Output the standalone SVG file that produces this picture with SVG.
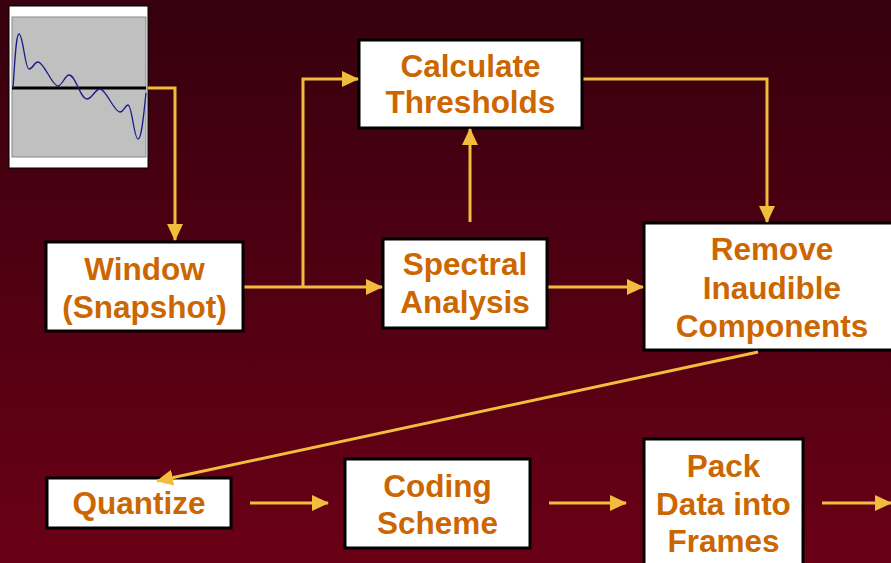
<svg xmlns="http://www.w3.org/2000/svg" width="891" height="563" viewBox="0 0 891 563">
<defs>
<linearGradient id="bg" x1="0" y1="0" x2="0" y2="1">
<stop offset="0" stop-color="#36000e"/>
<stop offset="1" stop-color="#6a0016"/>
</linearGradient>
<marker id="ah" markerWidth="17" markerHeight="16" refX="16" refY="8" orient="auto" markerUnits="userSpaceOnUse">
<path d="M0,0 L17,8 L0,16 Z" fill="#f2bd3c"/>
</marker>
<style>
.box{fill:#ffffff;stroke:#000000;stroke-width:3}
.t{font-family:"Liberation Sans",Arial,sans-serif;font-weight:bold;font-size:31.5px;fill:#cc6600;text-anchor:middle}
.c{fill:none;stroke:#f2bd3c;stroke-width:3}
</style>
</defs>
<rect width="891" height="563" fill="url(#bg)"/>

<g id="waveform">
<rect x="9" y="6" width="139" height="162" fill="#ffffff" stroke="#000" stroke-width="1"/>
<rect x="12" y="17" width="134" height="140" fill="#c0c0c0" stroke="#8a8a8a" stroke-width="1"/>
<line x1="12" y1="88" x2="146" y2="88" stroke="#000" stroke-width="3"/>
<path d="M13,88 C15,60 16,34 19,34 C23,34 25,69 29,69 C33,69 34,62 38,62 C44,62 52,86 58,86 C62,86 65,75 69,75 C76,75 80,99 87,99 C92,99 95,89 100,89 C106,89 114,112 120,112 C124,112 125,105 128,105 C132,105 134,139 138,139 C142,139 144,110 146,93" fill="none" stroke="#1a1a8c" stroke-width="1.3"/>
</g>

<g id="window">
<rect class="box" x="46" y="242" width="197" height="89"/>
<text class="t" x="144.5" y="280">Window</text>
<text class="t" x="144.5" y="318">(Snapshot)</text>
</g>

<g id="calculate">
<rect class="box" x="359" y="40" width="223" height="88"/>
<text class="t" x="470.5" y="77">Calculate</text>
<text class="t" x="470.5" y="113">Thresholds</text>
</g>

<g id="spectral">
<rect class="box" x="383" y="239" width="164" height="89"/>
<text class="t" x="465" y="275">Spectral</text>
<text class="t" x="465" y="313">Analysis</text>
</g>

<g id="remove">
<rect class="box" x="644" y="223" width="260" height="127"/>
<text class="t" x="772" y="260">Remove</text>
<text class="t" x="772" y="299">Inaudible</text>
<text class="t" x="772" y="337">Components</text>
</g>

<g id="quantize">
<rect class="box" x="47" y="478" width="184" height="50"/>
<text class="t" x="139" y="514">Quantize</text>
</g>

<g id="coding">
<rect class="box" x="345" y="459" width="185" height="89"/>
<text class="t" x="437.5" y="497">Coding</text>
<text class="t" x="437.5" y="534">Scheme</text>
</g>

<g id="pack">
<rect class="box" x="644" y="439" width="159" height="140"/>
<text class="t" x="723.5" y="477">Pack</text>
<text class="t" x="723.5" y="515">Data into</text>
<text class="t" x="723.5" y="552">Frames</text>
</g>

<g id="connectors">
<path class="c" d="M148,88 H175 V240" marker-end="url(#ah)"/>
<path class="c" d="M244.5,287 H382" marker-end="url(#ah)"/>
<path class="c" d="M303,287 V79 H358" marker-end="url(#ah)"/>
<path class="c" d="M470,222 V129" marker-end="url(#ah)"/>
<path class="c" d="M583.5,79 H767 V222" marker-end="url(#ah)"/>
<path class="c" d="M548.5,287 H643" marker-end="url(#ah)"/>
<path class="c" d="M758,352 L157,481" stroke-width="2.6" marker-end="url(#ah)"/>
<path class="c" d="M250,503 H328" marker-end="url(#ah)"/>
<path class="c" d="M549,503 H626" marker-end="url(#ah)"/>
<path class="c" d="M822,503 H891" marker-end="url(#ah)"/>
</g>
</svg>
